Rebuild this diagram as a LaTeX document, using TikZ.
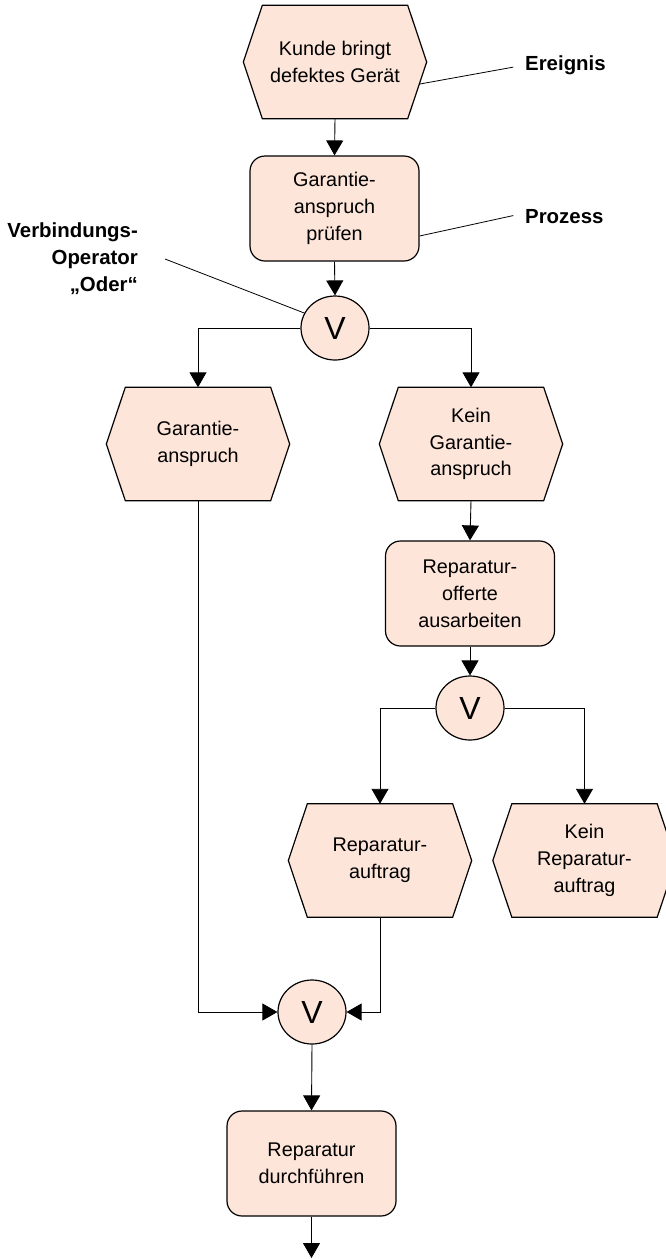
\documentclass[tikz,border=0pt]{standalone}
\usepackage{fontspec}
\setmainfont{Liberation Sans}
\usetikzlibrary{shapes.geometric,arrows.meta,backgrounds,calc}
\definecolor{peach}{RGB}{253,229,218}
\newcommand\hexfill[1]{\path[hexline] (#1.west) -- ([xshift=19pt]#1.north west) -- ([xshift=-19pt]#1.north east) -- (#1.east) -- ([xshift=-19pt]#1.south east) -- ([xshift=19pt]#1.south west) -- cycle;}
\begin{document}
\begin{tikzpicture}[x=1pt,y=-1pt,
  box/.style={inner sep=0pt, align=center, font=\fontsize{19.8}{26.8}\selectfont},
  evt/.style={box, minimum width=183pt, minimum height=113pt},
  proc/.style={box, draw=black, fill=peach, line width=1.2pt, rounded corners=15pt, minimum width=169pt, minimum height=105pt},
  op/.style={ellipse, draw=black, fill=peach, line width=1.2pt, minimum width=68pt, minimum height=64pt, inner sep=0pt, font=\fontsize{32}{32}\selectfont},
  hexline/.style={draw=black, fill=peach, line width=1.2pt, line join=miter},
  conn/.style={line width=0.9pt, -{Triangle[length=15pt,width=17pt]}},
  plain/.style={line width=0.8pt},
  lab/.style={font=\bfseries\fontsize{20.4}{27}\selectfont, inner sep=0pt}]
\clip (0,0) rectangle (666,1259);
\useasboundingbox (0,0) rectangle (666,1259);

% nodes
\node[evt] (e1) at (335,62) {Kunde bringt\\defektes Gerät};
\node[proc] (p1) at (334.5,208.5) {Garantie-\\anspruch\\prüfen};
\node[op] (c1) at (335,328) {V};
\node[evt] (e2) at (198,444) {Garantie-\\anspruch};
\node[evt] (e3) at (471,444) {Kein\\Garantie-\\anspruch};
\node[proc] (p2) at (470,593.5) {Reparatur-\\offerte\\ausarbeiten};
\node[op] (c2) at (470,708) {V};
\node[evt] (e4) at (380,860.5) {Reparatur-\\auftrag};
\node[evt] (e5) at (584.5,860.5) {Kein\\Reparatur-\\auftrag};
\node[op] (c3) at (312,1012) {V};
\node[proc] (p3) at (311.5,1163.5) {Reparatur\\durchführen};
\coordinate (end) at (311.5,1258);

\begin{pgfonlayer}{background}
\hexfill{e1}
\hexfill{e2}
\hexfill{e3}
\hexfill{e4}
\hexfill{e5}
\end{pgfonlayer}

% labels
\node[lab, anchor=west] (ereignis) at (525,65) {Ereignis};
\node[lab, anchor=west] (prozess) at (525,217) {Prozess};
\node[lab, align=right, anchor=east] (oplab) at (138,259) {Verbindungs-\\Operator\\„Oder“};

\draw[plain, shorten >=12pt] ($(e1.east)!0.39!([xshift=-19pt]e1.south east)$) -- (ereignis.west);
\draw[plain, shorten >=12pt] ([yshift=-27.5pt]p1.east) -- ([yshift=4pt]prozess.west);
\draw[plain] ([xshift=27pt]oplab.east) -- (c1.154);

% connectors
\draw[conn] (e1.south) -- (p1.north);
\draw[conn] (p1.south) -- (c1.north);
\draw[conn] (c1.west) -| (e2.north);
\draw[conn] (c1.east) -| (e3.north);
\draw[conn] (e3.south) -- (p2.north);
\draw[conn] (p2.south) -- (c2.north);
\draw[conn] (c2.west) -| (e4.north);
\draw[conn] (c2.east) -| (e5.north);
\draw[conn] (e2.south) |- (c3.west);
\draw[conn] (e4.south) |- (c3.east);
\draw[conn] (c3.south) -- (p3.north);
\draw[conn] (p3.south) -- (end);
\end{tikzpicture}
\end{document}
